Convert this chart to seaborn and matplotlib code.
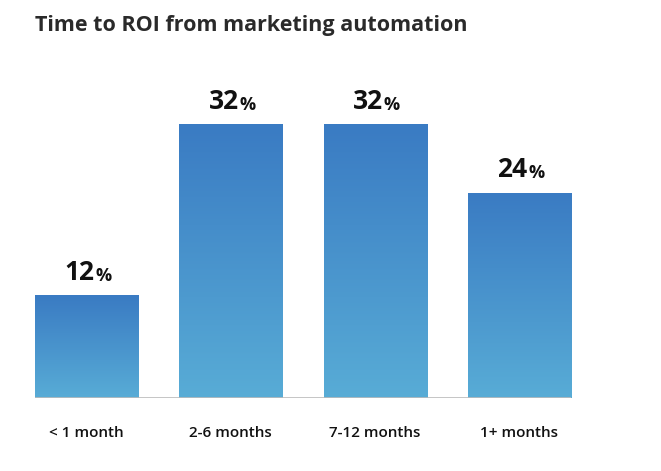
import matplotlib
matplotlib.use("Agg")
import matplotlib.pyplot as plt
import seaborn as sns
import numpy as np
import pandas as pd
from matplotlib.colors import LinearSegmentedColormap

title = "Time to ROI from marketing automation"
categories = ["< 1 month", "2-6 months", "7-12 months", "1+ months"]
values = [12, 32, 32, 24]

df = pd.DataFrame({"cat": categories, "val": values})
plt.rcParams["font.family"] = "Open Sans"
fig = plt.figure(figsize=(6.61, 4.71), dpi=100)
ax = fig.add_axes([35/661, 1-398/471, (571-35)/661, 342/471])
sns.barplot(data=df, x="cat", y="val", width=0.715, color="#3f86c8", ax=ax, saturation=1)
ax.set_xlim(-0.3575, 3.3575)
ax.set_ylim(0, 40)

cmap = LinearSegmentedColormap.from_list("g", ["#58acd6", "#3a7bc3"])
grad = np.linspace(0, 1, 256).reshape(-1, 1)
for p in ax.patches:
    x0, y0, w, h = p.get_x(), p.get_y(), p.get_width(), p.get_height()
    im = ax.imshow(grad, cmap=cmap, aspect="auto", origin="lower",
                   extent=[x0, x0 + w, 0, h], zorder=3)
    im.set_clip_path(p)
    p.set_alpha(0)

for i, v in enumerate(values):
    ax.annotate(f"{v}", (i, v), xytext=(-5, 7), textcoords="offset points",
                ha="center", va="bottom", fontsize=19, fontweight="bold", color="#111111")
    ax.annotate("%", (i, v), xytext=(12, 7.5), textcoords="offset points",
                ha="center", va="bottom", fontsize=13, fontweight="bold", color="#111111")

ax.axhline(0, color="#bbbbbb", lw=1.2, zorder=4)
for s in ax.spines.values():
    s.set_visible(False)
ax.set_yticks([])
ax.set_xlabel("")
ax.set_ylabel("")
ax.tick_params(axis="x", length=0, pad=20, labelsize=11, labelcolor="#111111")
for lab in ax.get_xticklabels():
    lab.set_fontweight("semibold")
fig.text(35/661, 1-25/471, title, fontsize=15.5, fontweight="bold", color="#2a2a2a", va="center")
fig.savefig("out.png", dpi=100)
